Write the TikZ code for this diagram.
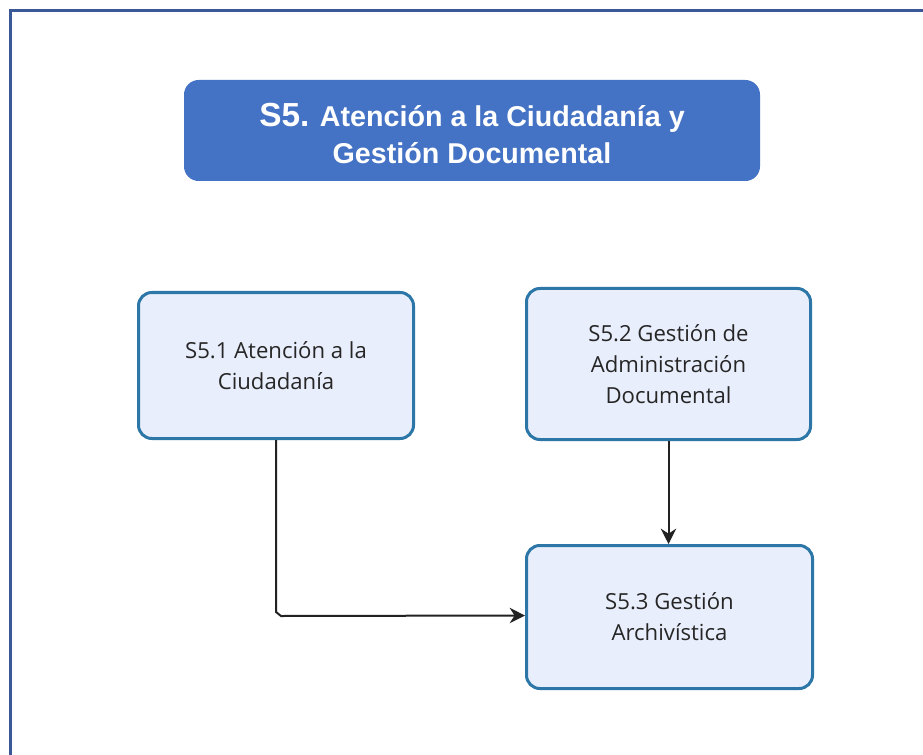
\documentclass[tikz,border=0pt]{standalone}
\usepackage{fontspec}
\setmainfont{Liberation Sans}
\newfontfamily\boxfont{Open Sans}
\usetikzlibrary{arrows.meta,calc}
\definecolor{framec}{HTML}{3A5896}
\definecolor{titlec}{HTML}{4472C4}
\definecolor{boxfill}{HTML}{E9EEFC}
\definecolor{boxdraw}{HTML}{2C77A8}
\definecolor{linec}{HTML}{222222}
\definecolor{textc}{HTML}{262626}
\tikzset{
  titlebox/.style={fill=titlec, draw=none, rounded corners=11pt, text=white,
    font=\bfseries\fontsize{21.5}{28}\selectfont, align=center, inner sep=0pt},
  procbox/.style={fill=boxfill, draw=boxdraw, line width=2.25pt, rounded corners=10pt,
    text=textc, font=\boxfont\fontsize{16.6}{23.2}\selectfont, align=center, inner sep=0pt},
  conn/.style={draw=linec, line width=1.5pt, -{Stealth[length=11.5pt,width=11.5pt]}},
}
\begin{document}
\begin{tikzpicture}[x=0.75pt,y=-0.75pt]
\useasboundingbox (0,0) rectangle (923,755);
\fill[white] (0,0) rectangle (923,755);
\draw[framec, line width=2.6pt] (10.5,755) -- (10.5,10.5) -- (923,10.5);
\node[titlebox, minimum width=432pt, minimum height=75.75pt] (t) at (472,130.5)
  {\rule{0pt}{22pt}{\fontsize{25}{28}\selectfont S5.} Atención a la Ciudadanía y\\Gestión Documental};
\node[procbox, minimum width=206.25pt, minimum height=109.5pt] (b1) at (276,365.5)
  {S5.1 Atención a la\\Ciudadanía};
\node[procbox, minimum width=213pt, minimum height=113.25pt] (b2) at (668.5,364)
  {S5.2 Gestión de\\Administración\\Documental};
\node[procbox, minimum width=214.5pt, minimum height=107.25pt] (b3) at (669.5,617)
  {S5.3 Gestión\\Archivística};
\coordinate (bend) at ($(b1.south |- b3.west)+(0,-5)$);
\draw[conn] (b2.south) -- (b2.south |- b3.north);
\draw[conn] (b1.south) -- (bend) -- ($(bend)+(5,4)$) -- ($(b3.west)+(0,-1.5)$);
\end{tikzpicture}
\end{document}
